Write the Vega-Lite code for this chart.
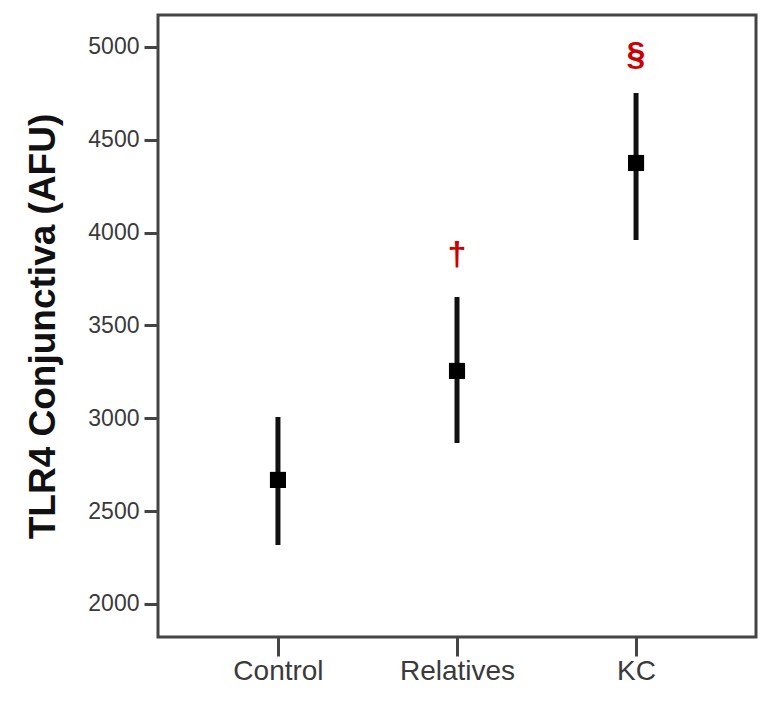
{
  "$schema": "https://vega.github.io/schema/vega-lite/v6.json",
  "autosize": "none",
  "width": 598,
  "height": 622,
  "padding": {"left": 158, "top": 15, "right": 5, "bottom": 65},
  "background": "white",
  "config": {
    "view": {"stroke": "#444444", "strokeWidth": 3},
    "axis": {"domain": false, "grid": false, "tickColor": "#444444", "tickWidth": 3, "labelFont": "Liberation Sans", "labelColor": "#3a3a3a", "titleFont": "Liberation Sans", "titleColor": "#111111"}
  },
  "data": {
    "values": [
      {"group": "Control", "mean": 2668, "lo": 2318, "hi": 3007, "sig": "", "sig_y": null},
      {"group": "Relatives", "mean": 3255, "lo": 2867, "hi": 3653, "sig": "†", "sig_y": 3879},
      {"group": "KC", "mean": 4375, "lo": 3960, "hi": 4752, "sig": "§", "sig_y": 4956}
    ]
  },
  "encoding": {
    "x": {
      "field": "group", "type": "nominal", "sort": ["Control", "Relatives", "KC"],
      "scale": {"type": "point", "padding": 0.67},
      "axis": {"title": null, "labelAngle": 0, "labelFontSize": 28, "tickSize": 19, "labelPadding": 1}
    }
  },
  "layer": [
    {
      "mark": {"type": "rule", "strokeWidth": 5, "color": "#111111"},
      "encoding": {
        "y": {
          "field": "lo", "type": "quantitative",
          "scale": {"domain": [1822, 5172], "nice": false, "zero": false},
          "axis": {"title": "TLR4 Conjunctiva (AFU)", "format": "d", "values": [2000, 2500, 3000, 3500, 4000, 4500, 5000], "labelFontSize": 23, "tickSize": 14, "labelPadding": 5, "titleFontSize": 37, "titleFontWeight": "bold", "titleX": -115, "titleY": 311, "titleBaseline": "middle", "titleAngle": -90}
        },
        "y2": {"field": "hi"}
      }
    },
    {
      "mark": {"type": "square", "size": 260, "filled": true, "color": "#000000", "opacity": 1},
      "encoding": {"y": {"field": "mean", "type": "quantitative"}}
    },
    {
      "transform": [{"filter": "datum.sig_y != null"}],
      "mark": {"type": "text", "color": "#cc0000", "fontSize": 34, "fontWeight": "bold", "font": "Liberation Sans", "baseline": "middle", "align": "center"},
      "encoding": {
        "y": {"field": "sig_y", "type": "quantitative"},
        "text": {"field": "sig"}
      }
    }
  ]
}
